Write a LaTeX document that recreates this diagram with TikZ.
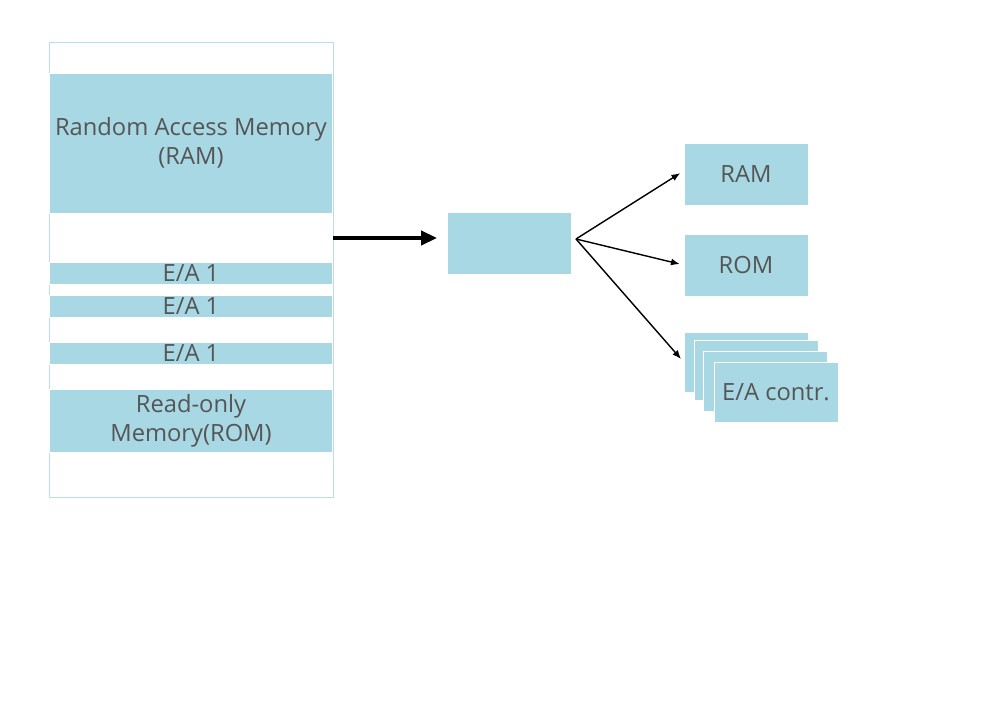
\documentclass[tikz,border=0pt]{standalone}
\usepackage{fontspec}
\setmainfont{Open Sans}
\usetikzlibrary{arrows.meta}
\definecolor{boxblue}{HTML}{A8D8E4}
\definecolor{textgrey}{HTML}{555555}
\tikzset{
  memband/.style={fill=boxblue, draw=white, inner sep=0pt, minimum width={283*0.02cm}, text=textgrey, align=center},
  unitbox/.style={fill=boxblue, draw=white, inner sep=0pt, minimum width={124*0.02cm}, minimum height={62*0.02cm}, text=textgrey},
  link/.style={thick, -{Latex[length=5pt,width=4pt]}, shorten >=0.08cm},
}
\begin{document}
\begin{tikzpicture}[x=0.02cm, y=-0.02cm, font=\fontsize{13.5}{16.5}\selectfont]
            \useasboundingbox (0,0) rectangle (1000,702);
            % Memory map
            \draw[boxblue!80!white] (49,42) rectangle (333,497);
            \node[memband, minimum height={140*0.02cm}] (ram) at (191,143) {Random Access Memory\\(RAM)};
            \node[memband, minimum height={22*0.02cm}] (ea1) at (191,273) {E/A 1};
            \node[memband, minimum height={22*0.02cm}] (ea2) at (191,306) {E/A 1};
            \node[memband, minimum height={22*0.02cm}] (ea3) at (191,353) {E/A 1};
            \node[memband, minimum height={63*0.02cm}] (rom) at (191,421) {Read-only\\Memory(ROM)};
            
            % Bus
            \node[unitbox] (bus) at (509,243) {};
            \coordinate (fan) at (576,239);
            \draw[line width=2pt, -{Triangle[length=9pt,width=8pt]}] (333,238) -- (437,238);
            
            % Units
            \node[unitbox] (ramunit) at (746,174) {RAM};
            \node[unitbox] (romunit) at (746,265) {ROM};
            \node[unitbox, minimum height={60*0.02cm}] (ctrla) at (746,362) {};
            \node[unitbox, minimum height={60*0.02cm}] (ctrlb) at (756,370) {};
            \node[unitbox, minimum height={60*0.02cm}] (ctrlc) at (765,381) {};
            \node[unitbox, minimum height={60*0.02cm}] (ctrld) at (776,392) {E/A contr.};
            
            % Links
            \draw[link] (fan) -- (ramunit.west |- 0,171);
            \draw[link] (fan) -- (romunit.west);
            \draw[link] (fan) -- (ctrla.west);
        \end{tikzpicture}
\end{document}
